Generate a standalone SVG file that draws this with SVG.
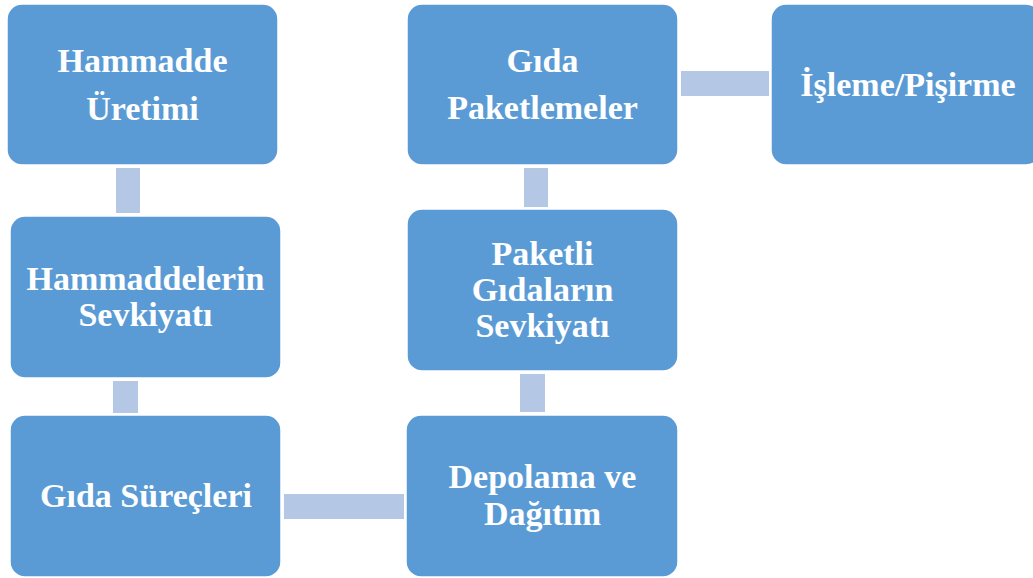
<svg xmlns="http://www.w3.org/2000/svg" width="1033" height="578" viewBox="0 0 1033 578">
<style>
.box{fill:#5B9BD5;stroke:#FFFFFF;stroke-width:1.5}
.conn{fill:#B4C8E6}
.t{font-family:"Liberation Serif","Times New Roman",serif;font-weight:bold;font-size:34px;fill:#FFFFFF;text-anchor:middle}
</style>
<rect width="1033" height="578" fill="#FFFFFF"/>
<g id="connectors">
<rect class="conn" x="116" y="168" width="24" height="45"/>
<rect class="conn" x="113" y="381" width="25" height="32"/>
<rect class="conn" x="284" y="494" width="120" height="25"/>
<rect class="conn" x="520" y="374" width="25" height="38"/>
<rect class="conn" x="524" y="168" width="24" height="39"/>
<rect class="conn" x="681" y="71" width="88" height="25"/>
</g>
<g id="n1">
<rect class="box" x="7" y="4" width="271" height="161" rx="15"/>
<text class="t" x="142.5" y="72">Hammadde</text>
<text class="t" x="142.5" y="120">Üretimi</text>
</g>
<g id="n2">
<rect class="box" x="10" y="216" width="271" height="162" rx="15"/>
<text class="t" x="145.5" y="290">Hammaddelerin</text>
<text class="t" x="145.5" y="326">Sevkiyatı</text>
</g>
<g id="n3">
<rect class="box" x="10" y="415" width="271" height="162" rx="15"/>
<text class="t" x="146" y="507">Gıda Süreçleri</text>
</g>
<g id="n4">
<rect class="box" x="406" y="415" width="272" height="162" rx="15"/>
<text class="t" x="542.5" y="488">Depolama ve</text>
<text class="t" x="542.5" y="525">Dağıtım</text>
</g>
<g id="n5">
<rect class="box" x="407" y="209" width="271" height="162" rx="15"/>
<text class="t" x="542.5" y="265">Paketli</text>
<text class="t" x="542.5" y="301">Gıdaların</text>
<text class="t" x="542.5" y="337">Sevkiyatı</text>
</g>
<g id="n6">
<rect class="box" x="407" y="4" width="271" height="161" rx="15"/>
<text class="t" x="542.5" y="72">Gıda</text>
<text class="t" x="542.5" y="119">Paketlemeler</text>
</g>
<g id="n7">
<rect class="box" x="771" y="4" width="270" height="161" rx="15"/>
<text class="t" x="908" y="96">İşleme/Pişirme</text>
</g>
</svg>
